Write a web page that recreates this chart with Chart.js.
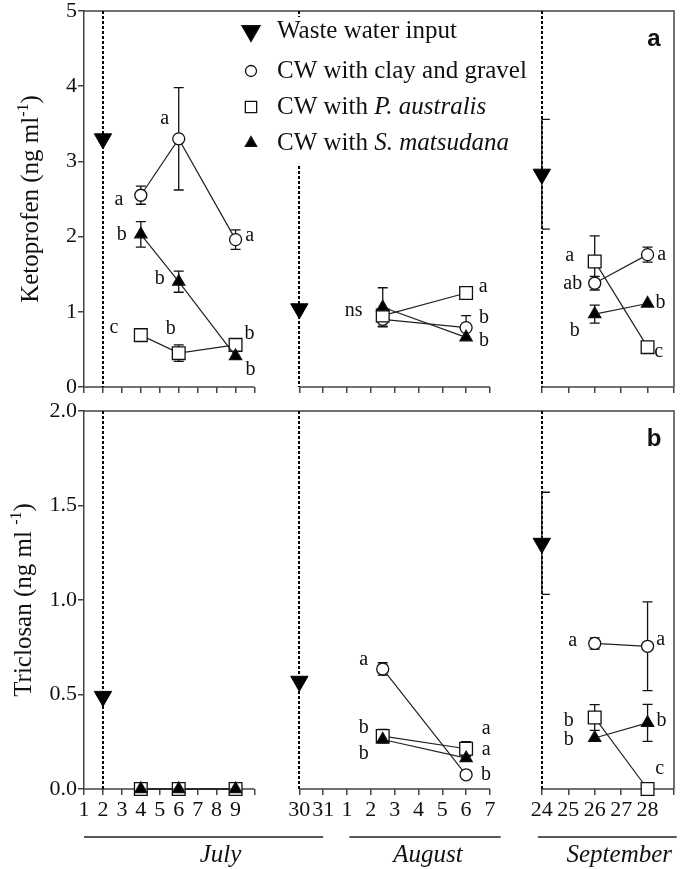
<!DOCTYPE html>
<html>
<head>
<meta charset="utf-8">
<script src="https://cdn.jsdelivr.net/npm/chart.js@4.4.1/dist/chart.umd.min.js"></script>
<style>
    html, body { margin: 0; padding: 0; background: #fff; }
    #wrap { position: relative; width: 685px; height: 869px; overflow: hidden; }
    canvas { position: absolute; left: 0; }
    #ketoCanvas { top: 0; }
    #tricCanvas { top: 400px; }
</style>
</head>
<body>
<div id="wrap">
    <canvas id="ketoCanvas" width="685" height="400"></canvas>
    <canvas id="tricCanvas" width="685" height="469"></canvas>
</div>
<script>
// sampling dates, one entry per sample in the series below
let sampleMonths = ['July', 'July', 'July', 'August', 'August', 'September', 'September'];
let sampleDays = [4, 6, 9, 2.5, 6, 26, 28];

// waste water input dates
let inputMonths = ['July', 'July', 'September'];
let inputDays = [2, 30, 24];

// x axis tick marks and the printed labels ('' = tick without label)
let tickMonths = ['July', 'July', 'July', 'July', 'July', 'July', 'July', 'July', 'July', 'July',
    'July', 'July', 'August', 'August', 'August', 'August', 'August', 'August', 'August',
    'September', 'September', 'September', 'September', 'September', 'September'];
let tickDays = [1, 2, 3, 4, 5, 6, 7, 8, 9, 10, 30, 31, 1, 2, 3, 4, 5, 6, 7, 24, 25, 26, 27, 28, 29];
let tickLabels = ['1', '2', '3', '4', '5', '6', '7', '8', '9', '', '30', '31', '1', '2', '3', '4', '5', '6', '7',
    '24', '25', '26', '27', '28', ''];

// month bands under the axis: name, first day, last day
let monthBands = [['July', 1, 31], ['August', 1.1, 7.45], ['September', 23.85, 29.1]];

// Ketoprofen (ng ml-1): means and SD
let ketoInput = [3.30, 1.04, 2.83];
let ketoInputSd = [0, 0, 0.73];
let ketoClay = [2.55, 3.30, 1.96, 0.90, 0.79, 1.38, 1.76];
let ketoClaySd = [0.12, 0.68, 0.13, 0.09, 0.16, 0.09, 0.10];
let ketoReed = [0.69, 0.45, 0.56, 0.95, 1.25, 1.67, 0.53];
let ketoReedSd = [0, 0.11, 0, 0.08, 0, 0.34, 0];
let ketoWillow = [2.03, 1.40, 0.41, 1.06, 0.66, 0.97, 1.11];
let ketoWillowSd = [0.17, 0.14, 0, 0.26, 0, 0.12, 0];
let ketoClayLetters = ['a', 'a', 'a', '', 'b', 'ab', 'a'];
let ketoReedLetters = ['c', 'b', 'b', '', 'a', 'a', 'c'];
let ketoWillowLetters = ['b', 'b', 'b', 'ns', 'b', 'b', 'b'];

// Triclosan (ng ml-1): means and SD
let tricInput = [0.49, 0.57, 1.30];
let tricInputSd = [0, 0, 0.27];
let tricClay = [0, 0, 0, 0.635, 0.075, 0.77, 0.755];
let tricClaySd = [0, 0, 0, 0.033, 0, 0.03, 0.235];
let tricReed = [0, 0, 0, 0.28, 0.213, 0.378, 0];
let tricReedSd = [0, 0, 0, 0.036, 0.037, 0.068, 0];
let tricWillow = [0, 0, 0, 0.262, 0.163, 0.27, 0.35];
let tricWillowSd = [0, 0, 0, 0.01, 0.01, 0, 0.098];
let tricClayLetters = ['', '', '', 'a', 'b', 'a', 'a'];
let tricReedLetters = ['', '', '', 'b', 'a', 'b', 'c'];
let tricWillowLetters = ['', '', '', 'b', 'a', 'b', 'b'];

// where the letters sit relative to their symbol (px)
let ketoLetterPos = {
    clay: [[-22, 5], [-14, -20], [14, -4], null, [18, -10], [-22, 1], [14, 0]],
    reed: [[-27, -7], [-8, -24], [14, -11], null, [17, -6], [-25, -6], [11, 5]],
    willow: [[-19, 0], [-19, -3], [15, 14], [-29, 3], [18, 3], [-20, 17], [13, -1]]
};
let tricLetterPos = {
    clay: [null, null, null, [-19, -9], [20, 0], [-22, -3], [13, -7]],
    reed: [null, null, null, [-19, -8], [20, -20], [-26, 3], [12, -20]],
    willow: [null, null, null, [-19, 14], [20, -8], [-26, 2], [14, -2]]
};

const serif = '"Liberation Serif", "Times New Roman", serif';
const axisColor = '#444';
const inkColor = '#111';

// days are counted from 30 June so the three months sit on one axis
const monthStart = { July: 0, August: 31, September: 62 };
function dayValue(month, day) { return monthStart[month] + day; }

// the axis is broken in three pieces, each with its own spacing
const axisSegments = [
    { from: dayValue('July', 1), to: dayValue('July', 10), start: 0, end: 0.289 },
    { from: dayValue('July', 30), to: dayValue('August', 7), start: 0.365, end: 0.688 },
    { from: dayValue('September', 24), to: dayValue('September', 29), start: 0.776, end: 1 }
];
const tickValues = tickDays.map((d, i) => dayValue(tickMonths[i], d));
const tickLabelOf = new Map(tickValues.map((v, i) => [v, tickLabels[i]]));

class BrokenScale extends Chart.LinearScale {
    static id = 'broken';
    static defaults = {};
    buildTicks() {
        return tickValues.map(v => ({ value: v }));
    }
    segmentFor(value) {
        let best = axisSegments[0], dist = Infinity;
        for (const s of axisSegments) {
            const d = value < s.from ? s.from - value : (value > s.to ? value - s.to : 0);
            if (d < dist) { dist = d; best = s; }
        }
        return best;
    }
    getPixelForValue(value) {
        if (value === null || value === undefined || isNaN(value)) return NaN;
        const s = this.segmentFor(value);
        return this.getPixelForDecimal(s.start + (value - s.from) / (s.to - s.from) * (s.end - s.start));
    }
    getValueForPixel(pixel) {
        const f = this.getDecimalForPixel(pixel);
        const s = axisSegments.find(q => f >= q.start && f <= q.end) || axisSegments[0];
        return s.from + (f - s.start) / (s.end - s.start) * (s.to - s.from);
    }
}
Chart.register(BrokenScale);

function samplePoints(values, sds, letters, pos) {
    let pts = [];
    values.forEach((v, i) => {
        let x = dayValue(sampleMonths[i], sampleDays[i]);
        if (i > 0 && sampleMonths[i] !== sampleMonths[i - 1]) {
            pts.push({ x: (x + pts[pts.length - 1].x) / 2, y: null }); // break the line between months
        }
        pts.push({ x: x, y: v, e: sds[i], t: letters[i], off: pos[i] });
    });
    return pts;
}

function inputPoints(values, sds) {
    return values.map((v, i) => ({ x: dayValue(inputMonths[i], inputDays[i]), y: v, e: sds[i], dashed: true }));
}

function drawMarker(ctx, style, rotation, radius, fill, x, y) {
    ctx.save();
    ctx.fillStyle = fill;
    ctx.strokeStyle = inkColor;
    ctx.lineWidth = 1.3;
    Chart.helpers.drawPoint(ctx, { pointStyle: style, rotation: rotation, radius: radius, borderWidth: 1.3 }, x, y);
    ctx.restore();
}

function drawRich(ctx, parts, x, y, align) {
    // parts: [text, font, raise]
    let total = 0;
    parts.forEach(p => { ctx.font = p[1]; total += ctx.measureText(p[0]).width; });
    let pos = align === 'center' ? x - total / 2 : x;
    parts.forEach(p => {
        ctx.font = p[1];
        ctx.fillText(p[0], pos, y + (p[2] || 0));
        pos += ctx.measureText(p[0]).width;
    });
}

const panelPlugin = {
    id: 'panelPlugin',
    beforeDatasetsDraw(chart) {
        const { ctx, chartArea: a, scales: { x, y } } = chart;
        ctx.save();
        // broken x axis, top frame and right frame
        ctx.strokeStyle = axisColor;
        ctx.lineWidth = 1.5;
        ctx.beginPath();
        axisSegments.forEach(s => {
            ctx.moveTo(x.getPixelForValue(s.from), a.bottom);
            ctx.lineTo(x.getPixelForValue(s.to), a.bottom);
        });
        ctx.moveTo(a.left, a.top);
        ctx.lineTo(a.right, a.top);
        ctx.lineTo(a.right, a.bottom);
        ctx.stroke();

        // dashed lines at the waste water inputs
        ctx.strokeStyle = '#000';
        ctx.lineWidth = 2;
        ctx.setLineDash([3, 2]);
        chart.data.datasets.forEach(ds => {
            ds.data.forEach(p => {
                if (!p.dashed) return;
                const px = Math.round(x.getPixelForValue(p.x));
                ctx.beginPath();
                ctx.moveTo(px, a.top);
                ctx.lineTo(px, a.bottom);
                ctx.stroke();
            });
        });
        ctx.setLineDash([]);

        // error bars (SD)
        ctx.strokeStyle = inkColor;
        ctx.lineWidth = 1.3;
        chart.data.datasets.forEach(ds => {
            const caps = ds.errCaps || [5, 5];
            ds.data.forEach(p => {
                if (p.y === null || !p.e) return;
                const px = x.getPixelForValue(p.x);
                const top = y.getPixelForValue(p.y + p.e);
                const bot = y.getPixelForValue(Math.max(0, p.y - p.e));
                ctx.beginPath();
                ctx.moveTo(px, top);
                ctx.lineTo(px, bot);
                ctx.moveTo(px - caps[0], top);
                ctx.lineTo(px + caps[1], top);
                ctx.moveTo(px - caps[0], bot);
                ctx.lineTo(px + caps[1], bot);
                ctx.stroke();
            });
        });
        ctx.restore();
    },
    afterDatasetsDraw(chart) {
        const { ctx, scales: { x, y } } = chart;
        ctx.save();
        ctx.fillStyle = inkColor;
        ctx.font = '20px ' + serif;
        ctx.textAlign = 'center';
        ctx.textBaseline = 'middle';
        chart.data.datasets.forEach(ds => {
            ds.data.forEach(p => {
                if (p.y === null || !p.t || !p.off) return;
                ctx.fillText(p.t, x.getPixelForValue(p.x) + p.off[0], y.getPixelForValue(p.y) + p.off[1]);
            });
        });
        ctx.restore();
    },
    afterDraw(chart, args, opts) {
        const { ctx, chartArea: a, scales: { x } } = chart;
        ctx.save();
        ctx.fillStyle = inkColor;

        // y axis title with superscript
        ctx.translate(opts.titleX, (a.top + a.bottom) / 2);
        ctx.rotate(-Math.PI / 2);
        ctx.textBaseline = 'alphabetic';
        ctx.textAlign = 'left';
        drawRich(ctx, opts.title, 0, 0, 'center');
        ctx.setTransform(1, 0, 0, 1, 0, 0);

        // panel letter
        ctx.font = 'bold 24px "Liberation Sans", Arial, sans-serif';
        ctx.textAlign = 'center';
        ctx.textBaseline = 'middle';
        ctx.fillText(opts.panelLetter, a.right - 20, a.top + 28);

        // legend
        if (opts.legend) {
            ctx.fillStyle = '#fff';
            ctx.fillRect(236, a.top + 6, 300, 147);
            ctx.fillStyle = inkColor;
            ctx.textAlign = 'left';
            opts.legend.forEach((item, i) => {
                const ly = opts.legendRows[i];
                drawMarker(ctx, item.style, item.rotation || 0, item.radius, item.fill, 251, ly);
                ctx.fillStyle = inkColor;
                ctx.textBaseline = 'middle';
                drawRich(ctx, item.parts, 277, ly, 'left');
            });
        }

        // month bands under the axis
        if (opts.months) {
            ctx.strokeStyle = '#222';
            ctx.lineWidth = 1.3;
            ctx.textAlign = 'left';
            ctx.textBaseline = 'alphabetic';
            monthBands.forEach((m, i) => {
                const x0 = x.getPixelForValue(dayValue(m[0], m[1]));
                const x1 = x.getPixelForValue(dayValue(m[0], m[2]));
                ctx.beginPath();
                ctx.moveTo(x0, opts.monthLineY);
                ctx.lineTo(x1, opts.monthLineY);
                ctx.stroke();
                drawRich(ctx, [[m[0], 'italic 25px ' + serif]], (x0 + x1) / 2 + opts.monthShift[i], opts.monthTextY, 'center');
            });
        }
        ctx.restore();
    }
};

function makePanel(canvasId, p) {
    const lineSet = (label, pts, style, radius, fill, order) => ({
        label: label,
        data: pts,
        borderColor: '#222',
        borderWidth: 1.2,
        pointStyle: style,
        pointRadius: radius,
        pointHoverRadius: radius,
        pointBackgroundColor: fill,
        pointBorderColor: inkColor,
        pointBorderWidth: 1.3,
        spanGaps: false,
        clip: false,
        order: order
    });
    const inputSet = {
        label: 'Waste water input',
        data: p.input,
        showLine: false,
        pointStyle: 'triangle',
        pointRotation: 180,
        pointRadius: 10,
        pointHoverRadius: 10,
        pointBackgroundColor: '#000',
        pointBorderColor: '#000',
        pointBorderWidth: 1,
        clip: false,
        order: 0,
        errCaps: [0, 8]
    };
    return new Chart(document.getElementById(canvasId), {
        type: 'line',
        data: {
            datasets: [
                inputSet,
                lineSet('CW with S. matsudana', p.willow, 'triangle', 7, '#000', 1),
                lineSet('CW with P. australis', p.reed, 'rect', 9, '#fff', 2),
                lineSet('CW with clay and gravel', p.clay, 'circle', 6, '#fff', 3)
            ]
        },
        options: {
            responsive: false,
            animation: false,
            devicePixelRatio: 1,
            events: [],
            layout: { padding: { top: p.padTop, right: 2, left: 0, bottom: 0 } },
            plugins: {
                legend: { display: false },
                tooltip: { enabled: false },
                panelPlugin: p.decor
            },
            scales: {
                x: {
                    type: 'broken',
                    min: dayValue('July', 1),
                    max: dayValue('September', 29),
                    border: { display: false },
                    grid: { drawOnChartArea: false, drawTicks: true, tickLength: 6, color: axisColor, lineWidth: 1.5 },
                    ticks: {
                        display: p.showXLabels,
                        autoSkip: false,
                        maxRotation: 0,
                        minRotation: 0,
                        padding: 2,
                        color: inkColor,
                        font: { family: serif, size: 22 },
                        callback: v => tickLabelOf.get(v) ?? ''
                    },
                    afterFit: s => { s.height = p.xHeight; s.paddingLeft = 0; s.paddingRight = 0; }
                },
                y: {
                    min: 0,
                    max: p.yMax,
                    border: { display: true, color: axisColor, width: 1.5 },
                    grid: { drawOnChartArea: false, drawTicks: true, tickLength: 6, color: axisColor, lineWidth: 1.5 },
                    ticks: {
                        stepSize: p.yStep,
                        padding: 1,
                        color: inkColor,
                        font: { family: serif, size: 22 },
                        callback: v => v.toFixed(p.yDecimals)
                    },
                    afterFit: s => { s.width = 84; s.paddingTop = 0; s.paddingBottom = 0; }
                }
            }
        },
        plugins: [panelPlugin]
    });
}

const titleFont = '25px ' + serif;
const supFont = '16px ' + serif;

makePanel('ketoCanvas', {
    input: inputPoints(ketoInput, ketoInputSd),
    clay: samplePoints(ketoClay, ketoClaySd, ketoClayLetters, ketoLetterPos.clay),
    reed: samplePoints(ketoReed, ketoReedSd, ketoReedLetters, ketoLetterPos.reed),
    willow: samplePoints(ketoWillow, ketoWillowSd, ketoWillowLetters, ketoLetterPos.willow),
    yMax: 5, yStep: 1, yDecimals: 0,
    padTop: 7, xHeight: 13, showXLabels: false,
    decor: {
        titleX: 38,
        title: [['Ketoprofen (ng ml', titleFont], ['-1', supFont, -10], [')', titleFont]],
        panelLetter: 'a',
        legendRows: [31, 71, 107, 143],
        legend: [
            { style: 'triangle', rotation: 180, radius: 10.5, fill: '#000', parts: [['Waste water input', titleFont]] },
            { style: 'circle', radius: 5.5, fill: '#fff', parts: [['CW with clay and gravel', titleFont]] },
            { style: 'rect', radius: 8, fill: '#fff', parts: [['CW with ', titleFont], ['P. australis', 'italic ' + titleFont]] },
            { style: 'triangle', radius: 6.5, fill: '#000', parts: [['CW with ', titleFont], ['S. matsudana', 'italic ' + titleFont]] }
        ]
    }
});

makePanel('tricCanvas', {
    input: inputPoints(tricInput, tricInputSd),
    clay: samplePoints(tricClay, tricClaySd, tricClayLetters, tricLetterPos.clay),
    reed: samplePoints(tricReed, tricReedSd, tricReedLetters, tricLetterPos.reed),
    willow: samplePoints(tricWillow, tricWillowSd, tricWillowLetters, tricLetterPos.willow),
    yMax: 2, yStep: 0.5, yDecimals: 1,
    padTop: 10, xHeight: 80, showXLabels: true,
    decor: {
        titleX: 31,
        title: [['Triclosan (ng ml ', titleFont], ['-1', supFont, -10], [')', titleFont]],
        panelLetter: 'b',
        months: true,
        monthLineY: 437,
        monthTextY: 462,
        monthShift: [17, 3, 12]
    }
});
</script>
</body>
</html>
